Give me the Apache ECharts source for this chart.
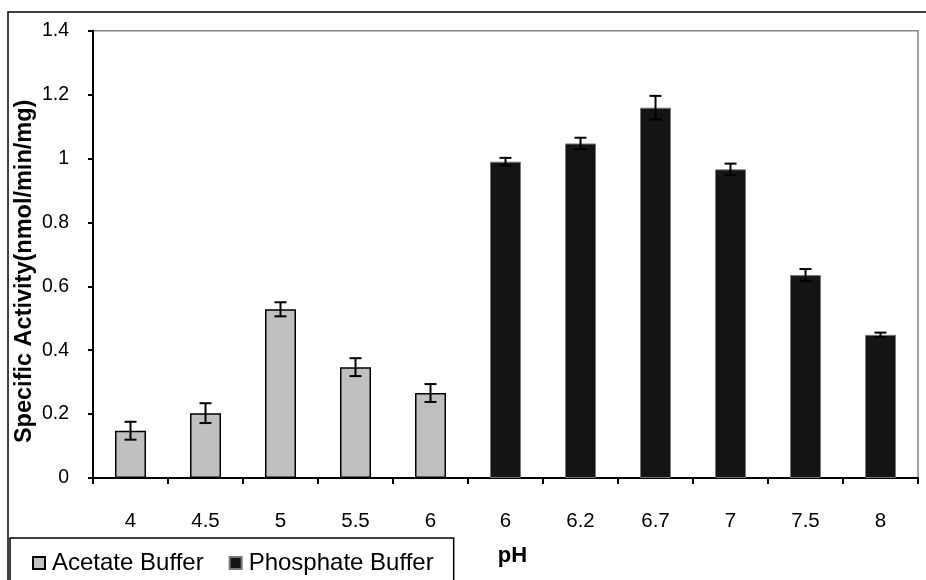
<!DOCTYPE html>
<html>
<head>
<meta charset="utf-8">
<script src="https://cdn.jsdelivr.net/npm/echarts@6/dist/echarts.min.js"></script>
<style>
html,body{margin:0;padding:0;background:#fff;}
#chart{width:926px;height:580px;}
</style>
</head>
<body>
<div id="chart"></div>
<script>
const categories = ['4', '4.5', '5', '5.5', '6', '6', '6.2', '6.7', '7', '7.5', '8'];
const acetateValues = [0.148, 0.203, 0.528, 0.347, 0.266, null, null, null, null, null, null];
const acetateErrors = [0.028, 0.031, 0.022, 0.028, 0.028, null, null, null, null, null, null];
const phosphateValues = [null, null, null, null, null, 0.99, 1.047, 1.159, 0.966, 0.635, 0.448];
const phosphateErrors = [null, null, null, null, null, 0.012, 0.018, 0.037, 0.018, 0.019, 0.007];
const yTicks = [0, 0.2, 0.4, 0.6, 0.8, 1, 1.2, 1.4];

const FONT = '"Liberation Sans", Arial, sans-serif';

const errData = [];
categories.forEach((c, i) => {
  const v = acetateValues[i] != null ? acetateValues[i] : phosphateValues[i];
  const e = acetateErrors[i] != null ? acetateErrors[i] : phosphateErrors[i];
  if (v != null && e != null) errData.push([i, v - e, v + e]);
});

const chart = echarts.init(document.getElementById('chart'));
chart.setOption({
  animation: false,
  backgroundColor: '#fff',
  graphic: [{
    type: 'rect',
    shape: { x: 8, y: 12, width: 930, height: 600 },
    style: { fill: 'none', stroke: '#000', lineWidth: 1.5 },
    z: -10
  }],
  grid: {
    left: 93, right: 8, top: 30.7, bottom: 102,
    outerBoundsMode: 'none',
    show: true, borderColor: '#888', borderWidth: 1.5, backgroundColor: '#fff'
  },
  legend: {
    left: 10, top: 538,
    padding: [13, 20, 20, 22],
    borderColor: '#000', borderWidth: 1.5, borderRadius: 0,
    backgroundColor: '#fff',
    itemWidth: 12, itemHeight: 12, itemGap: 25,
    icon: 'rect',
    textStyle: { fontFamily: FONT, fontSize: 24, color: '#000', padding: [0, 0, 0, 2] },
    data: ['Acetate Buffer', 'Phosphate Buffer']
  },
  xAxis: {
    type: 'category',
    data: categories,
    boundaryGap: true,
    name: 'pH',
    nameLocation: 'middle',
    nameGap: 67,
    nameMoveOverlap: false,
    nameTextStyle: { fontFamily: FONT, fontSize: 22, fontWeight: 'bold', color: '#000', padding: [0, 0, 0, 14] },
    axisLine: { lineStyle: { color: '#000', width: 2 } },
    axisTick: { show: true, inside: false, length: 6, alignWithLabel: false, lineStyle: { color: '#000', width: 2 } },
    axisLabel: { fontFamily: FONT, fontSize: 20.5, color: '#000', margin: 33 },
    splitLine: { show: false }
  },
  yAxis: {
    type: 'value',
    min: 0, max: 1.4, interval: 0.2,
    name: 'Specific Activity(nmol/min/mg)',
    nameLocation: 'middle',
    nameGap: 59,
    nameMoveOverlap: false,
    nameTextStyle: { fontFamily: FONT, fontSize: 23.5, fontWeight: 'bold', color: '#000', padding: [0, 0, -3, -34] },
    axisLine: { show: true, lineStyle: { color: '#000', width: 2 } },
    axisTick: { show: true, inside: false, length: 5, lineStyle: { color: '#000', width: 2 } },
    axisLabel: {
      fontFamily: FONT, fontSize: 19.5, color: '#000', margin: 24,
      formatter: v => { const t = yTicks.find(x => Math.abs(x - v) < 1e-9); return t != null ? String(t) : ''; }
    },
    splitLine: { show: false }
  },
  series: [
    {
      name: 'Acetate Buffer',
      type: 'bar',
      data: acetateValues,
      barWidth: 31,
      barGap: '-100%',
      itemStyle: { color: '#c0c0c0', borderColor: '#000', borderWidth: 1.5 }
    },
    {
      name: 'Phosphate Buffer',
      type: 'bar',
      data: phosphateValues,
      barWidth: 31,
      barGap: '-100%',
      itemStyle: { color: '#141414', borderColor: '#777', borderWidth: 1 }
    },
    {
      type: 'custom',
      name: 'err',
      data: errData,
      z: 10,
      renderItem: function (params, api) {
        const x = api.value(0);
        const lo = api.coord([x, api.value(1)]);
        const hi = api.coord([x, api.value(2)]);
        const hw = 6;
        const style = { stroke: '#000', lineWidth: 2, fill: 'none' };
        return {
          type: 'group',
          children: [
            { type: 'line', shape: { x1: lo[0], y1: lo[1], x2: hi[0], y2: hi[1] }, style: style },
            { type: 'line', shape: { x1: lo[0] - hw, y1: lo[1], x2: lo[0] + hw, y2: lo[1] }, style: style },
            { type: 'line', shape: { x1: hi[0] - hw, y1: hi[1], x2: hi[0] + hw, y2: hi[1] }, style: style }
          ]
        };
      }
    }
  ]
});
</script>
</body>
</html>
